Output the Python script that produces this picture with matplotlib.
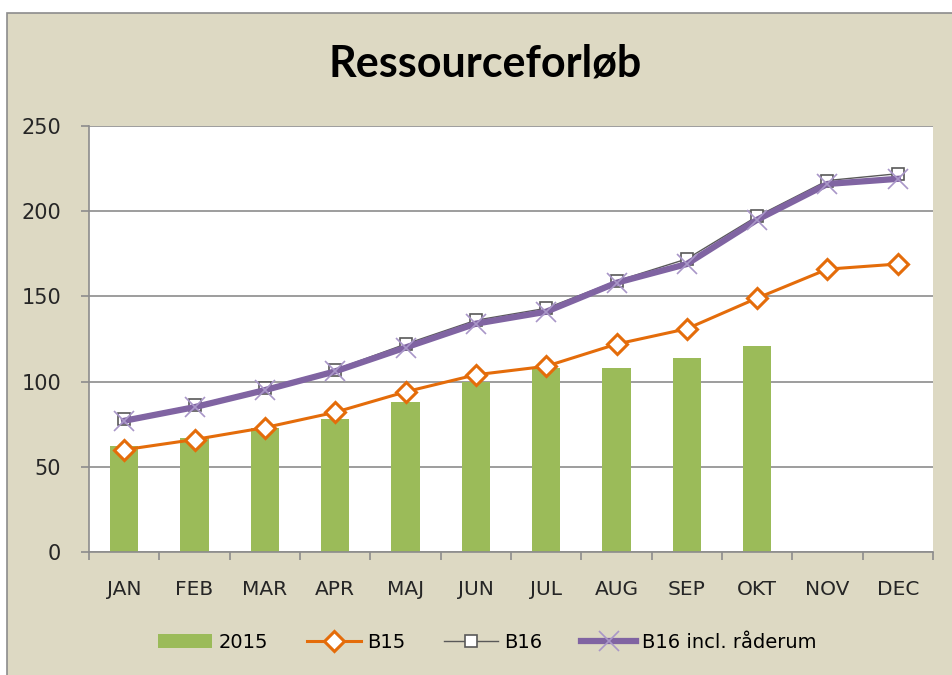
import matplotlib.pyplot as plt
from matplotlib.patches import Rectangle

months = ["JAN", "FEB", "MAR", "APR", "MAJ", "JUN", "JUL", "AUG", "SEP", "OKT", "NOV", "DEC"]
actual_2015 = [62, 67, 73, 78, 88, 100, 108, 108, 114, 121]
b15 = [60, 66, 73, 82, 94, 104, 109, 122, 131, 149, 166, 169]
b16 = [78, 86, 96, 107, 122, 136, 143, 159, 172, 197, 218, 222]
b16_raderum = [77, 85, 95, 106, 120, 134, 141, 158, 169, 195, 216, 219]
yticks = [0, 50, 100, 150, 200, 250]

W, H = 952, 675
fig = plt.figure(figsize=(W / 100, H / 100), dpi=100, facecolor="white")

# beige chart area behind everything
bg = fig.add_axes([0, 0, 1, 1], zorder=-1)
bg.axis("off")
bg.set_xlim(0, 1)
bg.set_ylim(0, 1)
bg.add_patch(Rectangle((7 / W, -0.1), 1.2, (H - 13) / H + 0.1, facecolor="#DDD9C3",
                       edgecolor="#8C8C8C", linewidth=1.2))

ax = fig.add_axes([89 / W, (H - 552) / H, (933 - 89) / W, (552 - 126) / H], zorder=1)
ax.set_facecolor("white")

x = list(range(len(months)))
bars = ax.bar(x[:len(actual_2015)], actual_2015, width=0.4, color="#9BBB59", zorder=2,
              label="2015")
l1, = ax.plot(x, b15, color="#E46C0A", lw=2.2, marker="D", ms=10.5, mfc="white",
              mec="#E46C0A", mew=2.2, zorder=3, label="B15")
l2, = ax.plot(x, b16, color="#595959", lw=1.0, marker="s", ms=8, mfc="white",
              mec="#595959", mew=1.2, zorder=4, label="B16")
l3, = ax.plot(x, b16_raderum, color="#8064A2", lw=4.5, marker="x", ms=15, mec="#A996C8",
              mew=1.2, zorder=5, label="B16 incl. råderum")

ax.set_xlim(-0.5, len(months) - 0.5)
ax.set_ylim(0, 250)
ax.set_yticks(yticks)
ax.set_xticks(x)
ax.set_xticklabels(months)
ax.set_xticks([i - 0.5 for i in range(len(months) + 1)], minor=True)
ax.tick_params(axis="x", which="major", length=0, pad=20, labelsize=14.5, colors="#262626")
ax.tick_params(axis="x", which="minor", length=6, width=1.2, color="#8C8C8C", direction="out")
ax.tick_params(axis="y", length=6, width=1.2, color="#8C8C8C", pad=14, labelsize=15,
               labelcolor="#262626")
ax.grid(axis="y", color="#8C8C8C", lw=1.2, zorder=1)
ax.set_axisbelow(True)
for s in ["top", "right"]:
    ax.spines[s].set_visible(False)
for s in ["left", "bottom"]:
    ax.spines[s].set_color("#8C8C8C")
    ax.spines[s].set_linewidth(1.2)
    ax.spines[s].set_zorder(6)

fig.text(485 / W, (H - 63) / H, "Ressourceforløb", ha="center", va="center",
         fontsize=31, fontweight="bold", family="Lato", color="black")

fig.legend([bars, l1, l2, l3], ["2015", "B15", "B16", "B16 incl. råderum"],
           loc="center", bbox_to_anchor=(487 / W, (H - 642) / H), ncol=4, frameon=False,
           fontsize=14, handlelength=2.8, columnspacing=2.0, handletextpad=0.3)

fig.savefig("out.png", dpi=100, facecolor=fig.get_facecolor())
